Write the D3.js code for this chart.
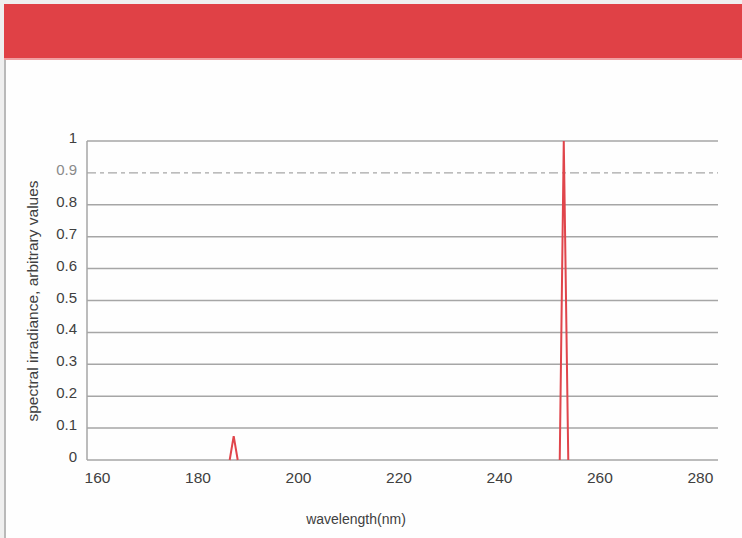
<!DOCTYPE html>
<html>
<head>
<meta charset="utf-8">
<script src="https://cdn.jsdelivr.net/npm/d3@7"></script>
<style>
  body { margin: 0; background: #efefef; }
  svg { display: block; }
</style>
</head>
<body>
<svg class="spectrum"></svg>
<script>
// Data (null = gap between emission lines)
var wavelengths = [186.4, 187.2, 188.0, null, 252.1, 252.9, 253.8];
var irradiance  = [0,     0.075, 0,     null, 0,     1.0,   0];
var xTicks = [160, 180, 200, 220, 240, 260, 280];
var yTicks = [0, 0.1, 0.2, 0.3, 0.4, 0.5, 0.6, 0.7, 0.8, 0.9, 1];
var dashedLevel = 0.9;

var dataset = wavelengths.map(function(w, i) { return { wl: w, v: irradiance[i] }; });

// Total dimensions
var w = 742,
    h = 538;

var svg = d3.select(".spectrum")
    .attr("width", w)
    .attr("height", h);

// page frame: gray outer, red banner, white panel
svg.append("rect")
    .attr("x", 4).attr("y", 4)
    .attr("width", w - 4).attr("height", h - 4)
    .attr("fill", "#fefefe");
svg.append("rect")
    .attr("x", 4).attr("y", 59)
    .attr("width", 2).attr("height", h - 59)
    .attr("fill", "#b9b9b9");
svg.append("rect")
    .attr("x", 4).attr("y", 4)
    .attr("width", w - 4).attr("height", 55)
    .attr("fill", "#e04146");
svg.append("rect")
    .attr("x", 4).attr("y", 58)
    .attr("width", w - 4).attr("height", 2)
    .attr("fill", "#f0a0a2");

// Margins
var margin = { top: 141, left: 87 },
    width = 718 - 87,
    height = 460 - 141,
    g = svg.append("g").attr("transform", "translate(" + margin.left + "," + margin.top + ")");

var xScale = d3.scaleLinear()
    .domain([158, 283.6])
    .range([0, width]);

var yScale = d3.scaleLinear()
    .domain([0, 1])
    .range([height, 0]);

// gridlines
g.append("g")
    .attr("class", "grid")
    .selectAll("line")
    .data(yTicks.filter(function(d) { return d !== dashedLevel; }))
    .enter().append("line")
    .attr("x1", 0)
    .attr("x2", width)
    .attr("y1", function(d) { return yScale(d); })
    .attr("y2", function(d) { return yScale(d); })
    .attr("stroke", "#a6a6a6")
    .attr("stroke-width", 1.5);

g.append("line")
    .attr("x1", 0)
    .attr("x2", width)
    .attr("y1", yScale(dashedLevel))
    .attr("y2", yScale(dashedLevel))
    .attr("stroke", "#a6a6a6")
    .attr("stroke-width", 1.3)
    .attr("stroke-dasharray", "9,4,4,4");

// vertical axis line
g.append("line")
    .attr("x1", 0).attr("x2", 0)
    .attr("y1", 0).attr("y2", height)
    .attr("stroke", "#a6a6a6")
    .attr("stroke-width", 1.5);

// Axes (text only)
var yAxis = d3.axisLeft(yScale).tickValues(yTicks).tickSize(0).tickPadding(10)
    .tickFormat(function(d) { return d === 0 || d === 1 ? d3.format("d")(d) : d3.format(".1f")(d); });
var gy = g.append("g").attr("class", "y axis").call(yAxis);
gy.select(".domain").remove();
gy.selectAll("text")
    .attr("font-family", "Liberation Sans, Arial, sans-serif")
    .attr("font-size", "15px")
    .attr("fill", "#404040")
    .attr("dy", "0.1em");
gy.selectAll(".tick")
    .filter(function(d) { return d === dashedLevel; })
    .select("text")
    .attr("fill", "#8a8a8a");

var xAxis = d3.axisBottom(xScale).tickValues(xTicks).tickSize(0).tickPadding(12);
var gx = g.append("g").attr("class", "x axis")
    .attr("transform", "translate(0," + height + ")")
    .call(xAxis);
gx.select(".domain").remove();
gx.selectAll("text")
    .attr("font-family", "Liberation Sans, Arial, sans-serif")
    .attr("font-size", "15.5px")
    .attr("fill", "#404040");

// spectrum lines
var line = d3.line()
    .defined(function(d) { return d.wl !== null; })
    .x(function(d) { return xScale(d.wl); })
    .y(function(d) { return yScale(d.v); });

g.append("path")
    .datum(dataset)
    .attr("fill", "none")
    .attr("stroke", "#e0454b")
    .attr("stroke-linejoin", "miter")
    .attr("stroke-width", 2)
    .attr("d", line);

// axis titles
svg.append("text")
    .attr("x", 356)
    .attr("y", 524)
    .attr("text-anchor", "middle")
    .attr("font-family", "Liberation Sans, Arial, sans-serif")
    .attr("font-size", "14px")
    .attr("fill", "#404040")
    .text("wavelength(nm)");

svg.append("text")
    .attr("transform", "translate(38,301) rotate(-90)")
    .attr("text-anchor", "middle")
    .attr("font-family", "Liberation Sans, Arial, sans-serif")
    .attr("font-size", "15.5px")
    .attr("fill", "#404040")
    .text("spectral irradiance, arbitrary values");
</script>
</body>
</html>
